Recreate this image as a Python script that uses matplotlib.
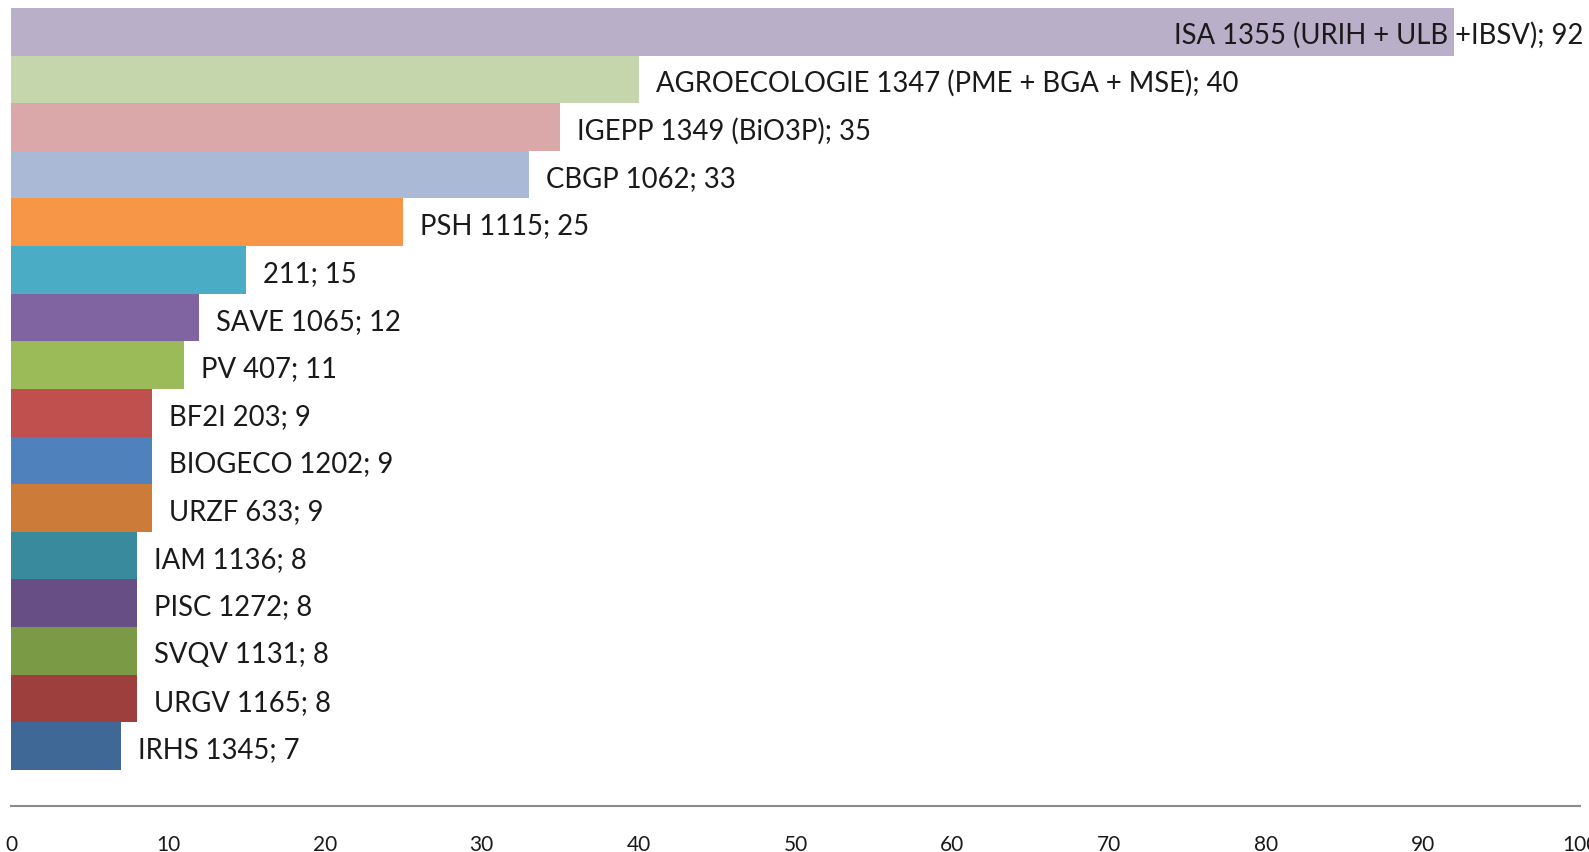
import matplotlib
matplotlib.use('Agg')
import matplotlib.pyplot as plt

# Data (top -> bottom)
labels = ['ISA 1355 (URIH + ULB +IBSV)', 'AGROECOLOGIE 1347 (PME + BGA + MSE)',
          'IGEPP 1349 (BiO3P)', 'CBGP 1062', 'PSH 1115', '211', 'SAVE 1065',
          'PV 407', 'BF2I 203', 'BIOGECO 1202', 'URZF 633', 'IAM 1136',
          'PISC 1272', 'SVQV 1131', 'URGV 1165', 'IRHS 1345']
values = [92, 40, 35, 33, 25, 15, 12, 11, 9, 9, 9, 8, 8, 8, 8, 7]
colors = ['#B9AFC9', '#C5D5AC', '#DAA8A8', '#AAB9D6', '#F79646', '#4BACC6',
          '#8064A2', '#9BBB59', '#C0504D', '#4F81BD', '#CC7B38', '#3A8A9E',
          '#674F86', '#7B9A45', '#9C3F3D', '#3F6897']
xticks = list(range(0, 101, 10))

plt.rcParams['font.family'] = ['Lato', 'DejaVu Sans']

fig = plt.figure(figsize=(15.89, 8.53), dpi=100)
ax = fig.add_axes([11 / 1589, 1 - 807 / 853, (1580 - 11) / 1589, (807 - 9) / 853])

pos = list(range(len(values)))
ax.barh(pos, values, height=1.0, color=colors, edgecolor='none')

ax.set_xlim(0, 100)
ax.set_ylim(len(values) - 0.5 + 0.756, -0.5)

# etiquettes des barres
for i, (lab, v) in enumerate(zip(labels, values)):
    txt = f'{lab}; {v}'
    if v > 80:
        # trop long : placé à l'intérieur, calé à droite
        ax.annotate(txt, xy=(1.0, i), xycoords=('axes fraction', 'data'),
                    xytext=(3, -2), textcoords='offset pixels',
                    ha='right', va='center', fontsize=19.8, color='#1a1a1a')
    else:
        ax.annotate(txt, xy=(v, i), xytext=(17, -3), textcoords='offset pixels',
                    ha='left', va='center', fontsize=19.8, color='#1a1a1a')

for s in ['top', 'right', 'left']:
    ax.spines[s].set_visible(False)
ax.spines['bottom'].set_color('#8c8c8c')
ax.spines['bottom'].set_linewidth(1.5)
ax.set_yticks([])
ax.set_xticks(xticks)
ax.tick_params(axis='x', length=0, pad=20, labelsize=15, labelcolor='#1a1a1a')
for t in ax.get_xticklabels():
    t.set_clip_on(False)

fig.savefig('out.png', dpi=100)
